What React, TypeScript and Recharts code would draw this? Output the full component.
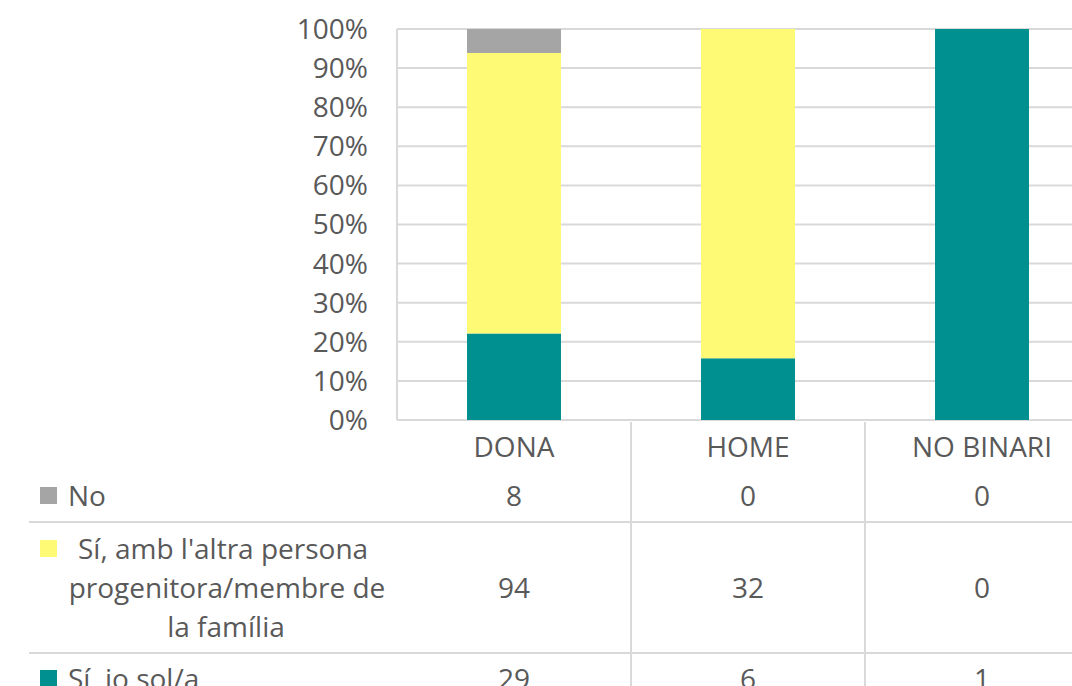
import { BarChart, Bar, XAxis, YAxis, CartesianGrid, Customized } from "recharts";

const categories = ["DONA", "HOME", "NO BINARI"];
const noValues = [8, 0, 0];
const ambAltraValues = [94, 32, 0];
const solValues = [29, 6, 1];
const yTicks = [0, 0.1, 0.2, 0.3, 0.4, 0.5, 0.6, 0.7, 0.8, 0.9, 1];

const data = categories.map((name, i) => ({
  name,
  sol: solValues[i],
  amb: ambAltraValues[i],
  no: noValues[i],
}));

const TEXT = "#595959";
const GRID = "#d9d9d9";
const FONT = "'Open Sans', sans-serif";
const FS = 28;

const W = 1100;
const H = 760;
const LEFT = 397;
const TOP = 29;
const PLOT_BOTTOM = 420;
const HALF_BAND = (W - LEFT - 1) / categories.length / 2;

function TableTick(props: any) {
  const { x, y, payload } = props;
  const i = categories.indexOf(payload.value);
  const cell = (dy: number, v: string | number) => (
    <text x={x} y={y + dy} textAnchor="middle" dominantBaseline="central" fill={TEXT} fontSize={FS} fontFamily={FONT}>
      {v}
    </text>
  );
  return (
    <g>
      <line x1={x + HALF_BAND} x2={x + HALF_BAND} y1={y + 2} y2={y + 330} stroke={GRID} strokeWidth={2} />
      {cell(26, payload.value)}
      {cell(75, noValues[i])}
      {cell(167, ambAltraValues[i])}
      {cell(258, solValues[i])}
    </g>
  );
}

function RowHeaders() {
  const t = { fill: TEXT, fontSize: FS, fontFamily: FONT, dominantBaseline: "central" as const };
  return (
    <g>
      <line x1={29} x2={W} y1={522} y2={522} stroke={GRID} strokeWidth={2} />
      <line x1={29} x2={W} y1={653} y2={653} stroke={GRID} strokeWidth={2} />
      <rect x={40} y={487} width={17} height={17} fill="#a5a5a5" />
      <text x={68} y={495} {...t}>No</text>
      <rect x={40} y={540} width={17} height={17} fill="#fffa75" />
      <text x={78} y={548} {...t}>Sí, amb l'altra persona</text>
      <text x={227} y={587} textAnchor="middle" {...t}>progenitora/membre de</text>
      <text x={226} y={626} textAnchor="middle" {...t}>la família</text>
      <rect x={40} y={670} width={17} height={17} fill="#00908f" />
      <text x={68} y={678} {...t}>Sí, jo sol/a</text>
    </g>
  );
}

export default function App() {
  return (
    <div style={{ position: "fixed", top: 0, left: 0, width: 1072, height: 686, overflow: "hidden", background: "#fff" }}>
      <BarChart
        width={W}
        height={H}
        data={data}
        stackOffset="expand"
        margin={{ top: TOP, right: 1, bottom: 0, left: 0 }}
      >
        <CartesianGrid vertical={false} stroke={GRID} strokeWidth={2} />
        <YAxis
          width={LEFT}
          domain={[0, 1]}
          ticks={yTicks}
          tickFormatter={(v: number) => `${Math.round(v * 100)}%`}
          tickLine={false}
          tickSize={6}
          tickMargin={23}
          axisLine={{ stroke: GRID, strokeWidth: 2 }}
          tick={{ fill: TEXT, fontSize: FS, fontFamily: FONT }}
          interval={0}
        />
        <XAxis
          dataKey="name"
          height={H - PLOT_BOTTOM}
          tickLine={false}
          tickSize={0}
          tickMargin={0}
          axisLine={false}
          tick={<TableTick />}
          interval={0}
        />
        <Bar dataKey="sol" stackId="a" fill="#00908f" barSize={94} isAnimationActive={false} />
        <Bar dataKey="amb" stackId="a" fill="#fffa75" barSize={94} isAnimationActive={false} />
        <Bar dataKey="no" stackId="a" fill="#a5a5a5" barSize={94} isAnimationActive={false} />
        <Customized component={RowHeaders} />
      </BarChart>
    </div>
  );
}
